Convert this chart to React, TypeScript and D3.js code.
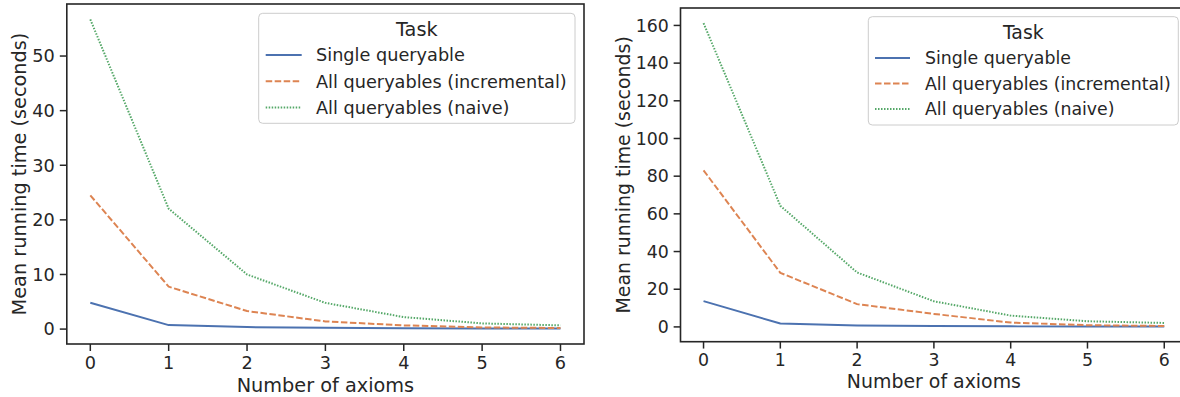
import React from "react";
import * as d3 from "d3";

const axioms = [0, 1, 2, 3, 4, 5, 6];
const seriesNames = ["Single queryable", "All queryables (incremental)", "All queryables (naive)"];
const seriesColors = ["#4c72b0", "#dd8452", "#55a868"];
const seriesDash = ["", "6.5,2.5", "1.5,1.5"];

// Left panel
const leftSingle = [4.83, 0.73, 0.37, 0.25, 0.15, 0.1, 0.1];
const leftIncremental = [24.5, 7.77, 3.3, 1.41, 0.68, 0.3, 0.2];
const leftNaive = [56.7, 22.05, 10.0, 4.8, 2.2, 1.04, 0.68];
const leftTicks = [0, 10, 20, 30, 40, 50];

// Right panel
const rightSingle = [13.7, 1.8, 0.74, 0.5, 0.3, 0.2, 0.2];
const rightIncremental = [83.1, 28.7, 12.1, 6.9, 2.3, 0.9, 0.5];
const rightNaive = [161.2, 64.3, 28.9, 13.6, 6.0, 3.0, 2.1];
const rightTicks = [0, 20, 40, 60, 80, 100, 120, 140, 160];

const xLabel = "Number of axioms";
const yLabel = "Mean running time (seconds)";
const legendTitle = "Task";

const TEXT = "#262626";
const FONT = "DejaVu Sans";

type PanelProps = {
  left: number; right: number; top: number; bottom: number; s: number;
  series: number[][]; ticks: number[];
  ylabelX: number; xtickBase: number; xlabelBase: number;
  legend: { x0: number; x1: number; y0: number; y1: number; titleY: number; rowY: number[]; lineX0: number; lineX1: number; textX: number };
};

function Panel(p: PanelProps) {
  const all = p.series.flat();
  const mn = d3.min(all)!, mx = d3.max(all)!;
  const m = (mx - mn) * 0.05;
  const x = d3.scaleLinear().domain([-0.3, 6.3]).range([p.left, p.right]);
  const y = d3.scaleLinear().domain([mn - m, mx + m]).range([p.bottom, p.top]);
  const line = d3.line<number>().x((_, i) => x(axioms[i])).y((d) => y(d));
  const tickFs = 17.7 * p.s, labFs = 19.3 * p.s;
  const lg = p.legend;
  return (
    <g fontFamily={FONT} fill={TEXT}>
      <defs>
        <clipPath id={`clip${p.left}`}>
          <rect x={p.left} y={p.top} width={p.right - p.left} height={p.bottom - p.top} />
        </clipPath>
      </defs>
      <g clipPath={`url(#clip${p.left})`}>
        {p.series.map((s, i) => (
          <path key={i} d={line(s)!} fill="none" stroke={seriesColors[i]} strokeWidth={2 * p.s}
            strokeDasharray={seriesDash[i] || undefined} strokeLinejoin="round" />
        ))}
      </g>
      <rect x={p.left} y={p.top} width={p.right - p.left} height={p.bottom - p.top} fill="none" stroke={TEXT} strokeWidth={1.6} />
      {axioms.map((a) => (
        <g key={a}>
          <line x1={x(a)} x2={x(a)} y1={p.bottom} y2={p.bottom + 7 * p.s} stroke={TEXT} strokeWidth={1.5} />
          <text x={x(a)} y={p.xtickBase} fontSize={tickFs} textAnchor="middle">{a}</text>
        </g>
      ))}
      {p.ticks.map((t) => (
        <g key={t}>
          <line x1={p.left - 7 * p.s} x2={p.left} y1={y(t)} y2={y(t)} stroke={TEXT} strokeWidth={1.5} />
          <text x={p.left - 12 * p.s} y={y(t)} dy="0.36em" fontSize={tickFs} textAnchor="end">{t}</text>
        </g>
      ))}
      <text x={(p.left + p.right) / 2} y={p.xlabelBase} fontSize={labFs} textAnchor="middle">{xLabel}</text>
      <text transform={`translate(${p.ylabelX},${(p.top + p.bottom) / 2}) rotate(-90)`} dy="0.36em" fontSize={labFs} textAnchor="middle">{yLabel}</text>
      <rect x={lg.x0} y={lg.y0} width={lg.x1 - lg.x0} height={lg.y1 - lg.y0} rx={4} fill="white" fillOpacity={0.8} stroke="#cccccc" strokeWidth={1} />
      <text x={(lg.x0 + lg.x1) / 2} y={lg.titleY} dy="0.36em" fontSize={labFs} textAnchor="middle">{legendTitle}</text>
      {seriesNames.map((n, i) => (
        <g key={n}>
          <line x1={lg.lineX0} x2={lg.lineX1} y1={lg.rowY[i]} y2={lg.rowY[i]} stroke={seriesColors[i]} strokeWidth={2 * p.s}
            strokeDasharray={seriesDash[i] || undefined} />
          <text x={lg.textX} y={lg.rowY[i]} dy="0.36em" fontSize={tickFs}>{n}</text>
        </g>
      ))}
    </g>
  );
}

export default function App() {
  return (
    <svg width={1180} height={397} style={{ display: "block", position: "absolute", left: 0, top: 0 }}>
      <rect width={1180} height={397} fill="white" />
      <Panel left={66.8} right={584} top={4} bottom={344} s={1}
        series={[leftSingle, leftIncremental, leftNaive]} ticks={leftTicks}
        ylabelX={19.5} xtickBase={369} xlabelBase={391.5}
        legend={{ x0: 258.7, x1: 575, y0: 13.3, y1: 123.3, titleY: 29, rowY: [55, 81.3, 107.6], lineX0: 265.7, lineX1: 301.7, textX: 316 }} />
      <Panel left={680.5} right={1187.3} top={8} bottom={341.7} s={0.98}
        series={[rightSingle, rightIncremental, rightNaive]} ticks={rightTicks}
        ylabelX={623.5} xtickBase={366} xlabelBase={388.3}
        legend={{ x0: 868.3, x1: 1178.3, y0: 16.7, y1: 125, titleY: 32, rowY: [58, 83.5, 109], lineX0: 875, lineX1: 910, textX: 925 }} />
    </svg>
  );
}
